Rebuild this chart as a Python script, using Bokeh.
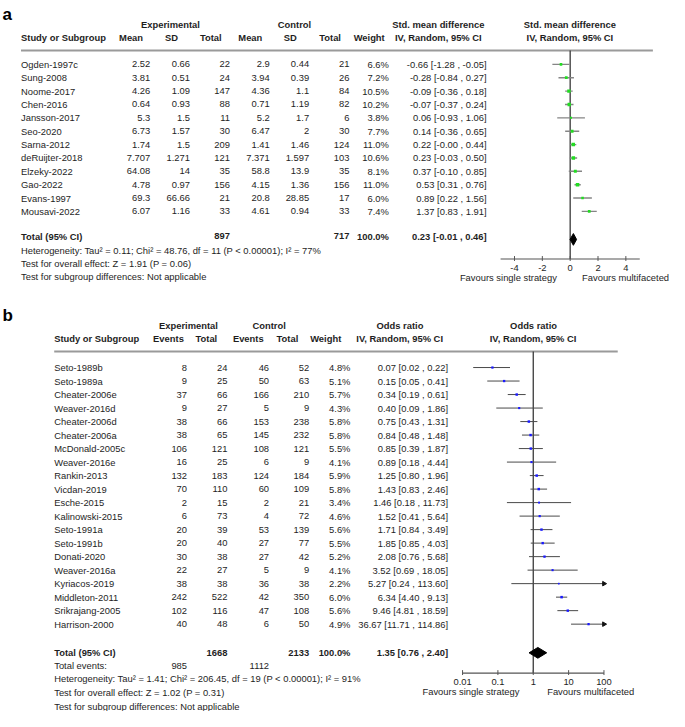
import numpy as np
from bokeh.plotting import figure
from bokeh.models import Range1d, LogScale
from bokeh.core.properties import value
from bokeh.embed import file_html
from bokeh.resources import INLINE

# ---------------- Panel a data ----------------
a_study = ["Ogden-1997c", "Sung-2008", "Noome-2017", "Chen-2016", "Jansson-2017", "Seo-2020",
           "Sarna-2012", "deRuijter-2018", "Elzeky-2022", "Gao-2022", "Evans-1997", "Mousavi-2022"]
a_exp_mean = [2.52, 3.81, 4.26, 0.64, 5.3, 6.73, 1.74, 7.707, 64.08, 4.78, 69.3, 6.07]
a_exp_sd = [0.66, 0.51, 1.09, 0.93, 1.5, 1.57, 1.5, 1.271, 14, 0.97, 66.66, 1.16]
a_exp_n = [22, 24, 147, 88, 11, 30, 209, 121, 35, 156, 21, 33]
a_ctl_mean = [2.9, 3.94, 4.36, 0.71, 5.2, 6.47, 1.41, 7.371, 58.8, 4.15, 20.8, 4.61]
a_ctl_sd = [0.44, 0.39, 1.1, 1.19, 1.7, 2, 1.46, 1.597, 13.9, 1.36, 28.85, 0.94]
a_ctl_n = [21, 26, 84, 82, 6, 30, 124, 103, 35, 156, 17, 33]
a_weight = [6.6, 7.2, 10.5, 10.2, 3.8, 7.7, 11.0, 10.6, 8.1, 11.0, 6.0, 7.4]
a_est = [-0.66, -0.28, -0.09, -0.07, 0.06, 0.14, 0.22, 0.23, 0.37, 0.53, 0.89, 1.37]
a_lo = [-1.28, -0.84, -0.36, -0.37, -0.93, -0.36, -0.0, -0.03, -0.10, 0.31, 0.22, 0.83]
a_hi = [-0.05, 0.27, 0.18, 0.24, 1.06, 0.65, 0.44, 0.50, 0.85, 0.76, 1.56, 1.91]
a_total_n = [897, 717]
a_total_ci = [0.23, -0.01, 0.46]
a_ticks = [-4, -2, 0, 2, 4]
a_axis_bounds = [-5, 5]
a_notes = ["Heterogeneity: Tau\u00b2 = 0.11; Chi\u00b2 = 48.76, df = 11 (P < 0.00001); I\u00b2 = 77%",
           "Test for overall effect: Z = 1.91 (P = 0.06)",
           "Test for subgroup differences: Not applicable"]

# ---------------- Panel b data ----------------
b_study = ["Seto-1989b", "Seto-1989a", "Cheater-2006e", "Weaver-2016d", "Cheater-2006d", "Cheater-2006a",
           "McDonald-2005c", "Weaver-2016e", "Rankin-2013", "Vicdan-2019", "Esche-2015", "Kalinowski-2015",
           "Seto-1991a", "Seto-1991b", "Donati-2020", "Weaver-2016a", "Kyriacos-2019", "Middleton-2011",
           "Srikrajang-2005", "Harrison-2000"]
b_exp_ev = [8, 9, 37, 9, 38, 38, 106, 16, 132, 70, 2, 6, 20, 20, 30, 22, 38, 242, 102, 40]
b_exp_n = [24, 25, 66, 27, 66, 65, 121, 25, 183, 110, 15, 73, 39, 40, 38, 27, 38, 522, 116, 48]
b_ctl_ev = [46, 50, 166, 5, 153, 145, 108, 6, 124, 60, 2, 4, 53, 27, 27, 5, 36, 42, 47, 6]
b_ctl_n = [52, 63, 210, 9, 238, 232, 121, 9, 184, 109, 21, 72, 139, 77, 42, 9, 38, 350, 108, 50]
b_weight = [4.8, 5.1, 5.7, 4.3, 5.8, 5.8, 5.5, 4.1, 5.9, 5.8, 3.4, 4.6, 5.6, 5.5, 5.2, 4.1, 2.2, 6.0, 5.6, 4.9]
b_est = [0.07, 0.15, 0.34, 0.40, 0.75, 0.84, 0.85, 0.89, 1.25, 1.43, 1.46, 1.52, 1.71, 1.85, 2.08, 3.52,
         5.27, 6.34, 9.46, 36.67]
b_lo = [0.02, 0.05, 0.19, 0.09, 0.43, 0.48, 0.39, 0.18, 0.80, 0.83, 0.18, 0.41, 0.84, 0.85, 0.76, 0.69,
        0.24, 4.40, 4.81, 11.71]
b_hi = [0.22, 0.41, 0.61, 1.86, 1.31, 1.48, 1.87, 4.44, 1.96, 2.46, 11.73, 5.64, 3.49, 4.03, 5.68, 18.05,
        113.60, 9.13, 18.59, 114.86]
b_total_n = [1668, 2133]
b_total_events = [985, 1112]
b_total_ci = [1.35, 0.76, 2.40]
b_ticks = [0.01, 0.1, 1, 10, 100]
b_tick_labels = ["0.01", "0.1", "1", "10", "100"]
b_notes = ["Heterogeneity: Tau\u00b2 = 1.41; Chi\u00b2 = 206.45, df = 19 (P < 0.00001); I\u00b2 = 91%",
           "Test for overall effect: Z = 1.02 (P = 0.31)",
           "Test for subgroup differences: Not applicable"]

# ---------------- layout constants (reference pixel frame) ----------------
FONT = "Liberation Sans"
FS = "9.4px"
TXT = "#1e1e1e"
W_REF, H_REF = 685, 727

# panel a value axis: 0 at x=583.3, 14.25 px per unit
A_X0, A_K = 583.3, 14.25
# panel b value axis: 1 at x=545.5, 36.2 px per decade
B_X0, B_K = 545.5, 36.2

p = figure(width=669, height=711,
           x_range=Range1d(0, W_REF), y_range=Range1d(H_REF, 0),
           extra_x_ranges={"smd": Range1d((0 - A_X0) / A_K, (W_REF - A_X0) / A_K),
                           "or": Range1d(10 ** ((0 - B_X0) / B_K), 10 ** ((W_REF - B_X0) / B_K))},
           extra_x_scales={"or": LogScale()},
           output_backend="svg", toolbar_location=None,
           x_axis_location=None, y_axis_location=None,
           min_border=0, outline_line_color=None)
p.grid.visible = False
p.background_fill_color = "white"
p.border_fill_color = "white"


def put(xs, ys, texts, align="left", bold=False, size=FS, color=TXT):
    n = len(texts)
    if not isinstance(xs, (list, tuple)):
        xs = [xs] * n
    if not isinstance(ys, (list, tuple)):
        ys = [ys] * n
    p.text(x=list(xs), y=list(ys), text=list(texts), text_align=align, text_baseline="middle",
           text_font=value(FONT), text_font_size=size,
           text_font_style="bold" if bold else "normal", text_color=color)


def g(v):
    return f"{v:g}"


def ci(e, lo, hi):
    return f"{e:.2f} [{lo:.2f} , {hi:.2f}]"


# ================= Panel a =================
put(2, 14, ["a"], bold=True, size="17px", color="#000")
put(174, 25, ["Experimental"], align="center", bold=True)
put(301, 25, ["Control"], align="center", bold=True)
put(448.3, 25, ["Std. mean difference"], align="center", bold=True)
put(583, 25, ["Std. mean difference"], align="center", bold=True)
put(21, 38.3, ["Study or Subgroup"], bold=True)
put([133.7, 175, 215.3, 255.8, 296.7, 337.5, 377.5, 448.3, 583],
    38.3, ["Mean", "SD", "Total", "Mean", "SD", "Total", "Weight", "IV, Random, 95% CI", "IV, Random, 95% CI"],
    align="center", bold=True)
p.segment(x0=[21], x1=[668], y0=[51], y1=[51], line_color="#9a9a9a", line_width=2)

ya = [65.3 + 13.67 * i for i in range(len(a_study))]
put(21, ya, a_study)
put(153.3, ya, [g(v) for v in a_exp_mean], align="right")
put(194, ya, [g(v) for v in a_exp_sd], align="right")
put(235, ya, [str(v) for v in a_exp_n], align="right")
put(275.7, ya, [g(v) for v in a_ctl_mean], align="right")
put(316, ya, [g(v) for v in a_ctl_sd], align="right")
put(357.3, ya, [str(v) for v in a_ctl_n], align="right")
put(397.7, ya, [f"{w:.1f}%" for w in a_weight], align="right")
put(497.7, ya, [ci(e, l, h) for e, l, h in zip(a_est, a_lo, a_hi)], align="right")

ya_tot = 241
put(21, ya_tot, ["Total (95% CI)"], bold=True)
put(235, ya_tot, [str(a_total_n[0])], align="right", bold=True)
put(357.3, ya_tot, [str(a_total_n[1])], align="right", bold=True)
put(397.7, ya_tot, ["100.0%"], align="right", bold=True)
put(497.7, ya_tot, [ci(*a_total_ci)], align="right", bold=True)
put(21, [255.7, 269.2, 282.7], a_notes)

# forest a
p.segment(x0=[0], x1=[0], y0=[51], y1=[264.3], x_range_name="smd", line_color="#3a3a3a", line_width=1.3)
p.segment(x0=a_lo, x1=a_hi, y0=ya, y1=ya, x_range_name="smd", line_color="#858585", line_width=1.4)
p.scatter(x=a_est, y=ya, x_range_name="smd", marker="square",
          size=[1.3 + 0.2 * w for w in a_weight], fill_color="#22dd22", line_color=None)
e, lo, hi = a_total_ci
yd = 244.3
p.patch(x=[lo, e, hi, e], y=[yd, yd - 6, yd, yd + 6], x_range_name="smd", fill_color="#000", line_color="#000")
# axis a
ax_y = 264.3
p.segment(x0=[a_axis_bounds[0]], x1=[a_axis_bounds[1]], y0=[ax_y], y1=[ax_y], x_range_name="smd",
          line_color="#555", line_width=1.2)
p.segment(x0=a_ticks, x1=a_ticks, y0=[ax_y - 3] * len(a_ticks), y1=[ax_y + 2] * len(a_ticks),
          x_range_name="smd", line_color="#555", line_width=1)
p.text(x=a_ticks, y=[273.5] * len(a_ticks), text=[str(t) for t in a_ticks], x_range_name="smd",
       text_align="center", text_baseline="middle", text_font=value(FONT), text_font_size=FS, text_color=TXT)
put(520, 283.3, ["Favours single strategy"], align="center")
put(640, 283.3, ["Favours multifaceted"], align="center")

# ================= Panel b =================
put(2, 322, ["b"], bold=True, size="17px", color="#000")
put(192.5, 332.7, ["Experimental"], align="center", bold=True)
put(275, 332.7, ["Control"], align="center", bold=True)
put(409, 332.7, ["Odds ratio"], align="center", bold=True)
put(545.8, 332.7, ["Odds ratio"], align="center", bold=True)
put(55, 346, ["Study or Subgroup"], bold=True)
put([172, 210.8, 253.7, 293.8, 333, 408.7, 545.3], 346,
    ["Events", "Total", "Events", "Total", "Weight", "IV, Random, 95% CI", "IV, Random, 95% CI"],
    align="center", bold=True)
p.segment(x0=[55], x1=[632], y0=[359], y1=[359], line_color="#9a9a9a", line_width=2)

yb = [375.3 + 13.81 * i for i in range(len(b_study))]
put(55, yb, b_study)
put(191, yb, [str(v) for v in b_exp_ev], align="right")
put(232.3, yb, [str(v) for v in b_exp_n], align="right")
put(275, yb, [str(v) for v in b_ctl_ev], align="right")
put(316, yb, [str(v) for v in b_ctl_n], align="right")
put(358.3, yb, [f"{w:.1f}%" for w in b_weight], align="right")
put(458.3, yb, [ci(e, l, h) for e, l, h in zip(b_est, b_lo, b_hi)], align="right")

yb_tot = 666.7
put(55, yb_tot, ["Total (95% CI)"], bold=True)
put(232.3, yb_tot, [str(b_total_n[0])], align="right", bold=True)
put(316, yb_tot, [str(b_total_n[1])], align="right", bold=True)
put(358.3, yb_tot, ["100.0%"], align="right", bold=True)
put(458.3, yb_tot, [ci(*b_total_ci)], align="right", bold=True)
put(55, 680, ["Total events:"])
put(191, 680, [str(b_total_events[0])], align="right")
put(275, 680, [str(b_total_events[1])], align="right")
put(55, [693.5, 707.8, 721.5], b_notes)

# forest b
bmax = b_ticks[-1]
ax_yb = 687.7
p.segment(x0=[1], x1=[1], y0=[359], y1=[ax_yb], x_range_name="or", line_color="#3a3a3a", line_width=1.3)
b_hi_draw = [min(h, bmax) for h in b_hi]
p.segment(x0=b_lo, x1=b_hi_draw, y0=yb, y1=yb, x_range_name="or", line_color="#4a4a4a", line_width=1)
p.scatter(x=b_est, y=yb, x_range_name="or", marker="square",
          size=[1.2 + 0.22 * w for w in b_weight], fill_color="#1a1aff", line_color=None)
arr_y = [y for y, h in zip(yb, b_hi) if h > bmax]
p.scatter(x=[bmax] * len(arr_y), y=arr_y, x_range_name="or", marker="triangle", angle=-np.pi / 2,
          size=4.5, fill_color="#111", line_color="#111")
e, lo, hi = b_total_ci
yd = 667
p.patch(x=[lo, e, hi, e], y=[yd, yd - 5.5, yd, yd + 5.5], x_range_name="or", fill_color="#000", line_color="#000")
# axis b
p.segment(x0=[b_ticks[0]], x1=[b_ticks[-1]], y0=[ax_yb], y1=[ax_yb], x_range_name="or",
          line_color="#555", line_width=1.2)
p.segment(x0=b_ticks, x1=b_ticks, y0=[ax_yb - 3] * len(b_ticks), y1=[ax_yb + 2] * len(b_ticks),
          x_range_name="or", line_color="#555", line_width=1)
p.text(x=b_ticks, y=[696.8] * len(b_ticks), text=b_tick_labels, x_range_name="or",
       text_align="center", text_baseline="middle", text_font=value(FONT), text_font_size=FS, text_color=TXT)
put(481.7, 706.8, ["Favours single strategy"], align="center")
put(604.3, 706.8, ["Favours multifaceted"], align="center")

open("out.html", "w").write(file_html(p, INLINE))
